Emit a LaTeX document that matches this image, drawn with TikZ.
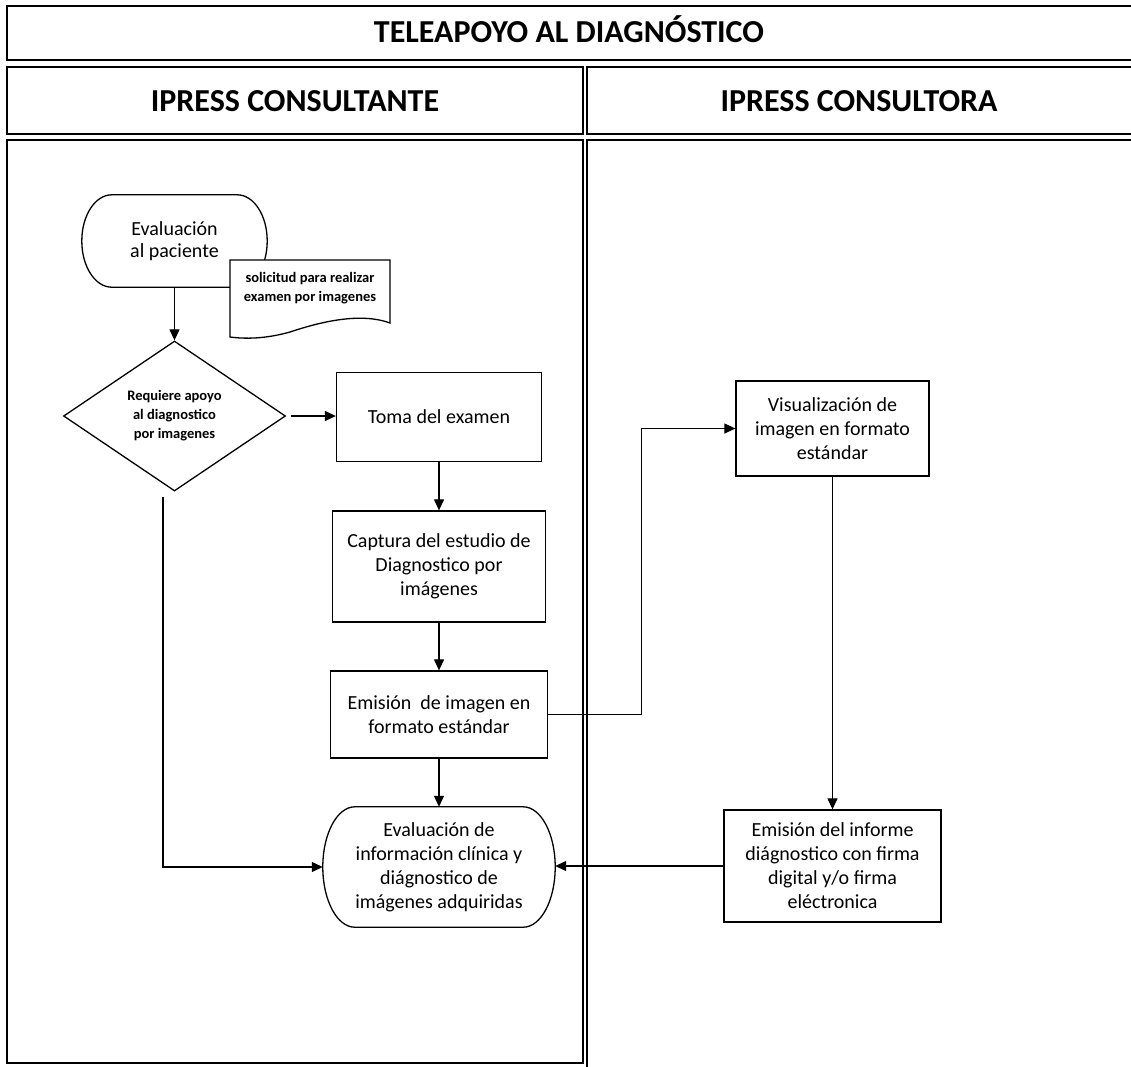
\documentclass[tikz,border=0pt]{standalone}
\usepackage{fontspec}
\setmainfont{Carlito}
\usetikzlibrary{arrows.meta,shapes.geometric,calc}
% flat top and bottom, half-elliptic sides, drawn round a named node
\newcommand{\stadiumborder}[3]{%
  \draw[termline] ($(#1.north west)+(#2,0)$) -- ($(#1.north east)+(-#2,0)$)
    .. controls +(0.5523*#2,0) and +(0,-0.5523*#3) .. ($(#1.north east)+(0,#3)$)
    -- ($(#1.south east)+(0,-#3)$)
    .. controls +(0,0.5523*#3) and +(0.5523*#2,0) .. ($(#1.south east)+(-#2,0)$)
    -- ($(#1.south west)+(#2,0)$)
    .. controls +(-0.5523*#2,0) and +(0,0.5523*#3) .. ($(#1.south west)+(0,-#3)$)
    -- ($(#1.north west)+(0,#3)$)
    .. controls +(0,-0.5523*#3) and +(-0.5523*#2,0) .. ($(#1.north west)+(#2,0)$) -- cycle;}
\begin{document}
\begin{tikzpicture}[x=1pt,y=-1pt,
  box/.style={draw,line width=1.3pt,rectangle,align=center,font=\fontsize{20}{24}\selectfont,inner sep=0pt},
  term/.style={rectangle,align=center,font=\fontsize{20}{24}\selectfont,inner sep=0pt},
  termline/.style={line width=1.3pt},
  small/.style={align=center,font=\fontsize{14.5}{19}\selectfont\bfseries,inner sep=0pt},
  conn/.style={line width=1.2pt,-{Triangle[length=11pt,width=10pt]}},
  lane/.style={line width=1.5pt},
  hdr/.style={font=\fontsize{32}{36}\selectfont\bfseries,inner sep=0pt,anchor=base}
]
\useasboundingbox (0,0) rectangle (1131,1066);
\fill[white] (0,0) rectangle (1131,1066);

% lanes
\draw[lane] (1135,6) -- (7,6) -- (7,60) -- (1135,60);
\draw[lane] (583,67) -- (7,67) -- (7,134) -- (583,134) -- cycle;
\draw[lane] (1135,67) -- (587,67) -- (587,134) -- (1135,134);
\draw[lane] (583,140) -- (7,140) -- (7,1063) -- (583,1063) -- cycle;
\draw[lane] (1135,140) -- (587,140) -- (587,1070);

\node[hdr] (title) at (569,42) {TELEAPOYO AL DIAGNÓSTICO};
\node[hdr] (h1) at (295,111) {IPRESS CONSULTANTE};
\node[hdr] (h2) at (859,111) {IPRESS CONSULTORA};

% left lane
\node[term, minimum width=185pt, minimum height=92pt,
      font=\fontsize{20}{22}\selectfont] (start) at (174.5,241) {Evaluación\\al paciente};
\stadiumborder{start}{30}{46}

\draw[line width=1.3pt, fill=white] (230,260) -- (390,260) -- (390,323)
  .. controls (360,312) and (320,322) .. (290,332)
  .. controls (265,339) and (245,339) .. (230,337) -- cycle;
\node[small] (doc) at (310,288) {solicitud para realizar\\examen por imagenes};

\node[diamond, draw, line width=1.3pt, minimum width=222pt, minimum height=150pt,
      inner sep=0pt, small] (dia) at (174.5,416) {Requiere apoyo\\al diagnostico\\por imagenes};

\node[box, minimum width=205pt, minimum height=89pt] (toma) at (439,417) {Toma del examen};
\node[box, minimum width=213pt, minimum height=111pt] (capt) at (439,566.5) {Captura del estudio de\\Diagnostico por\\imágenes};
\node[box, minimum width=217pt, minimum height=87pt] (emi) at (439,714.5) {Emisión~ de imagen en\\formato estándar};
\node[term, minimum width=232pt, minimum height=120pt] (fin) at (439,867)
  {Evaluación de\\información clínica y\\diágnostico de\\imágenes adquiridas};
\stadiumborder{fin}{32}{60}

% right lane
\node[box, minimum width=193pt, minimum height=95pt] (vis) at (832.5,428.5) {Visualización de\\imagen en formato\\estándar};
\node[box, minimum width=217pt, minimum height=112pt] (inf) at (832.5,866) {Emisión del informe\\diágnostico con firma\\digital y/o firma\\eléctronica};

\coordinate (nob) at (163,497);

% connectors
\draw[conn] (start.south) -- (dia.north);
\draw[conn, shorten <=5pt] (dia.east) -- (dia.east -| toma.west);
\draw[conn] (toma.south) -- (capt.north);
\draw[conn] (capt.south) -- (emi.north);
\draw[conn] (emi.south) -- (fin.north);
\draw[conn] (emi.east) -- ++(93,0) |- (vis.west);
\draw[conn] (vis.south) -- (inf.north);
\draw[conn] (inf.west) -- (inf.west -| fin.east);
\draw[conn] (nob) |- (fin.west);
\end{tikzpicture}
\end{document}
